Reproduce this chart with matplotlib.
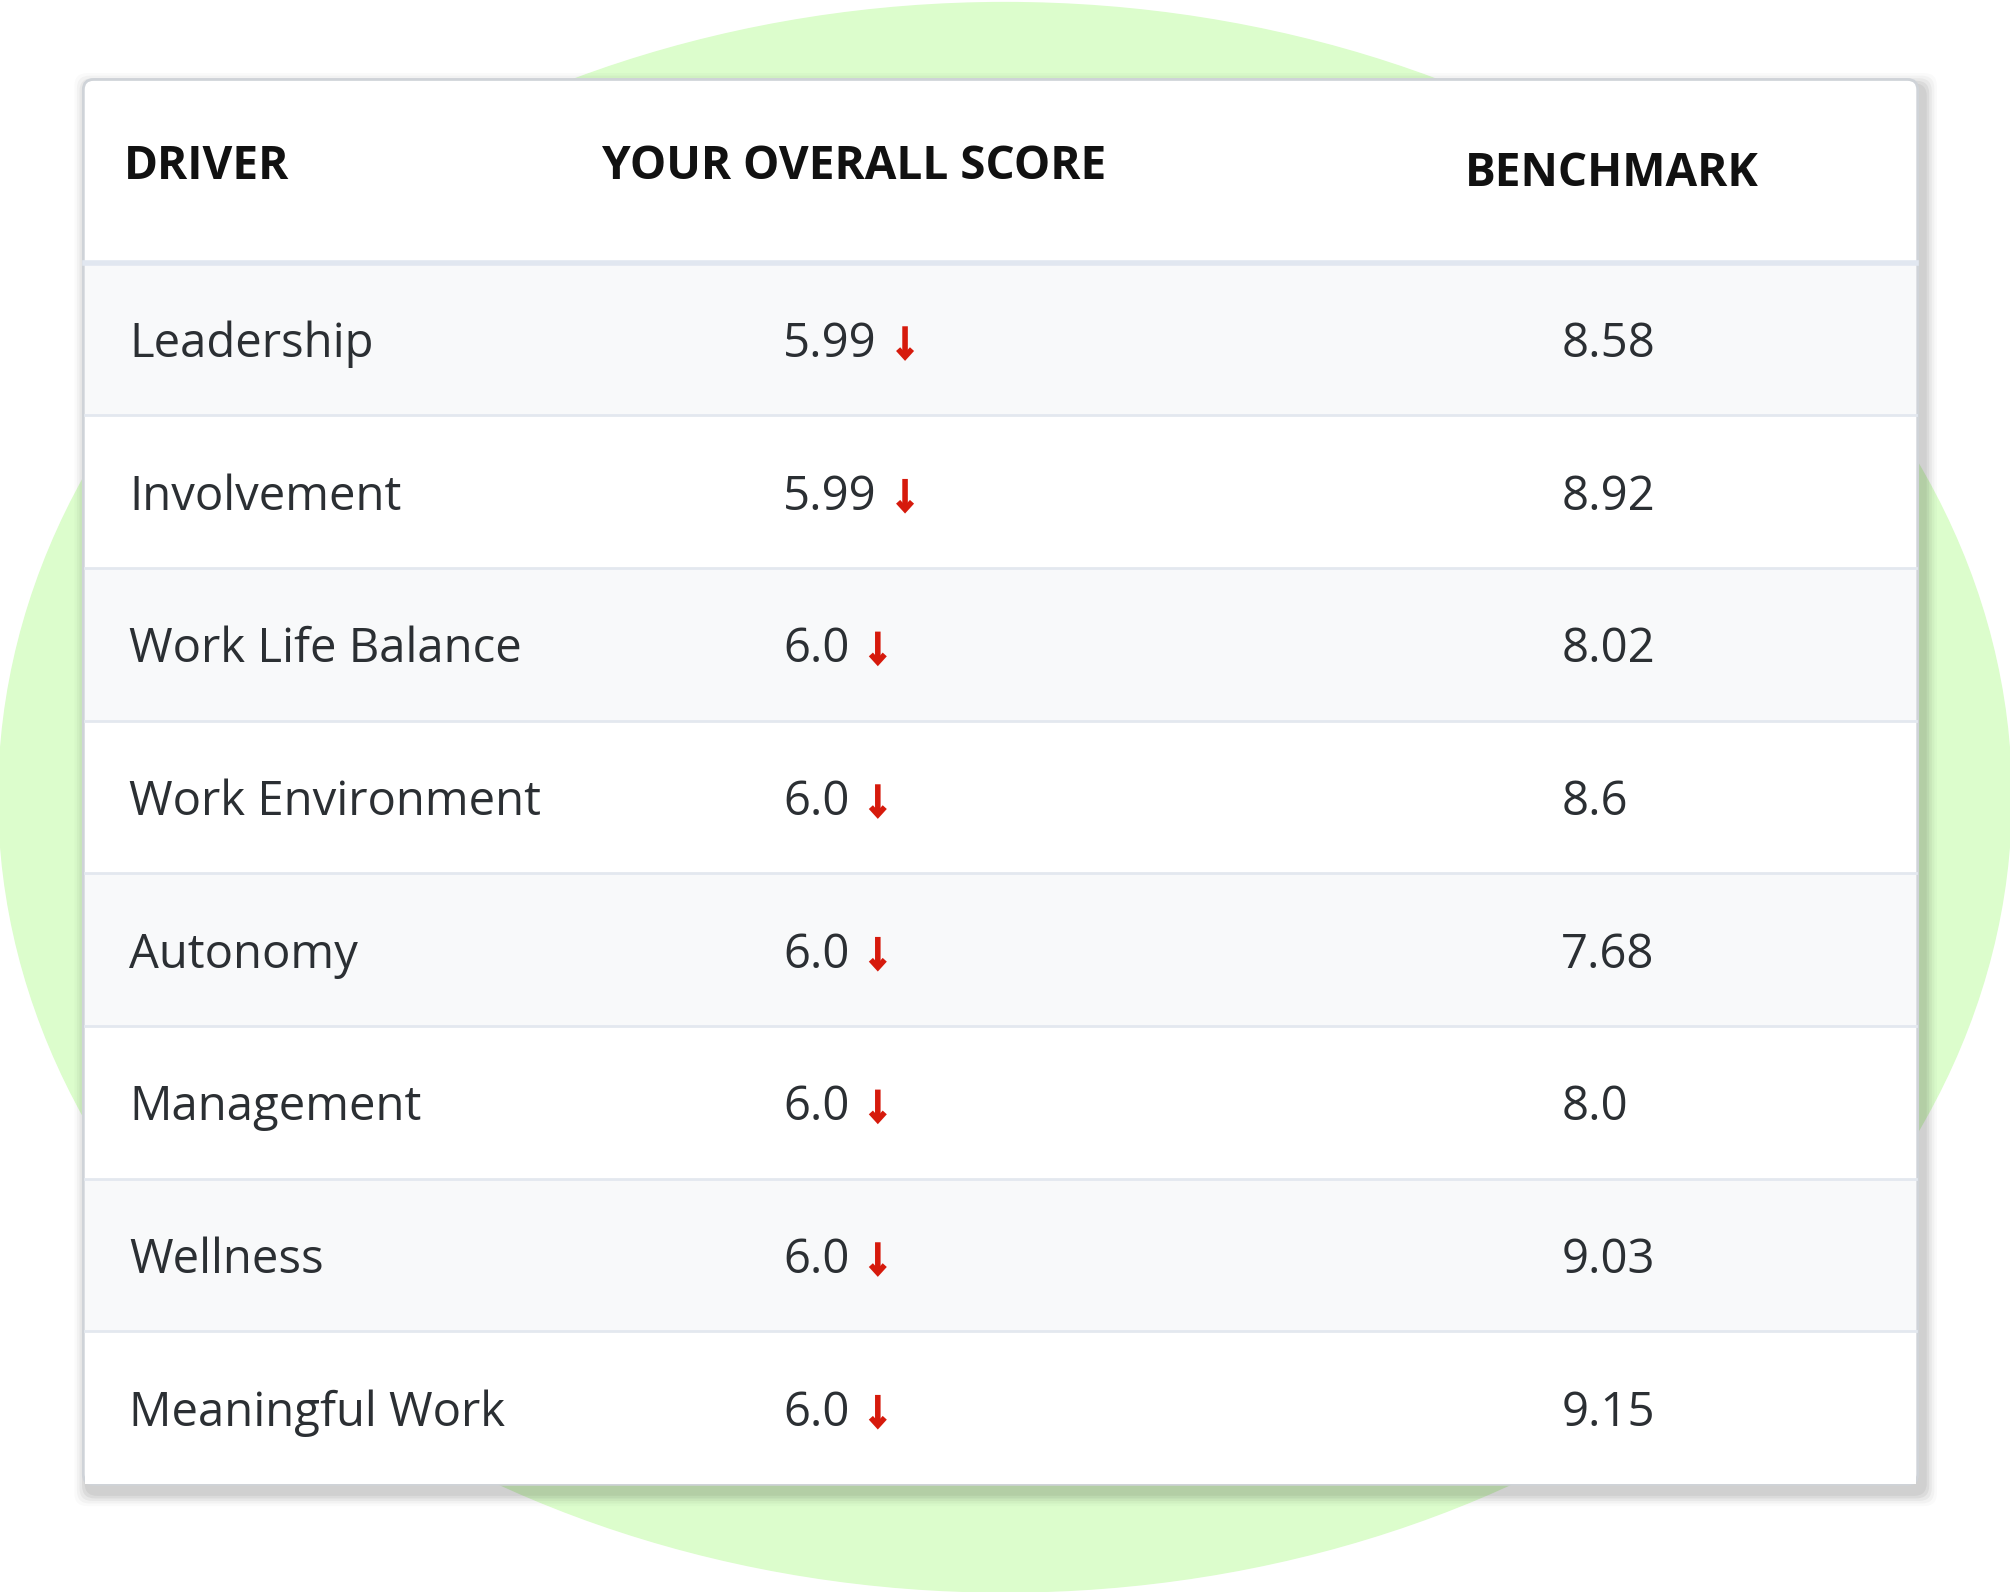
import matplotlib
matplotlib.use("Agg")
import matplotlib.pyplot as plt
from matplotlib.patches import Ellipse, FancyBboxPatch, Rectangle

headers = ["DRIVER", "YOUR OVERALL SCORE", "BENCHMARK"]
drivers = ["Leadership", "Involvement", "Work Life Balance", "Work Environment",
           "Autonomy", "Management", "Wellness", "Meaningful Work"]
scores = ["5.99", "5.99", "6.0", "6.0", "6.0", "6.0", "6.0", "6.0"]
benchmarks = ["8.58", "8.92", "8.02", "8.6", "7.68", "8.0", "9.03", "9.15"]

W, H = 1568, 1242
fig = plt.figure(figsize=(20.10, 15.92), dpi=100)
ax = fig.add_axes([0, 0, 1, 1])
ax.set_xlim(0, W); ax.set_ylim(H, 0); ax.axis("off")

ax.add_patch(Ellipse((784, 622), 1570, 1240, color="#dcfdcc", zorder=0))

L, R, T, B = 65, 1496, 62, 1158
for i, a in enumerate([0.05, 0.05, 0.04, 0.03, 0.02]):
    d = 3 + i * 2
    ax.add_patch(FancyBboxPatch((L + 4, T + 6), R - L, B - T, boxstyle=f"round,pad={d},rounding_size=10",
                                fc="black", ec="none", alpha=a, zorder=1))
ax.add_patch(FancyBboxPatch((L, T), R - L, B - T, boxstyle="round,pad=0,rounding_size=8",
                            fc="white", ec="#cfd3d8", lw=2, zorder=2))

hy, rh = 205, 119.1
for i in range(len(drivers)):
    y0 = hy + i * rh
    fc = "#f8f9fa" if i % 2 == 0 else "white"
    ax.add_patch(Rectangle((L + 1, y0), R - L - 2, rh, fc=fc, ec="none", zorder=3))
    if i > 0:
        ax.plot([L + 1, R - 1], [y0, y0], color="#e3e8ef", lw=2, zorder=4)
ax.plot([L + 1, R - 1], [hy, hy], color="#e1e7f0", lw=4, zorder=4)

font = "Open Sans"
hx = [97, 470, 1143]
hyy = [130, 130, 135]
for t, x, y in zip(headers, hx, hyy):
    ax.text(x, y, t, fontsize=33, fontweight="bold", family=font, color="#111111",
            va="center", ha="left", zorder=5)

score_texts = []
for i, (d, s, b) in enumerate(zip(drivers, scores, benchmarks)):
    yc = hy + (i + 0.5) * rh + 4
    ax.text(101, yc, d, fontsize=34, family=font, color="#2b2f33", va="center", zorder=5)
    st = ax.text(611, yc, s, fontsize=34, family=font, color="#2b2f33", va="center", zorder=5)
    score_texts.append((st, yc))
    ax.text(1218, yc, b, fontsize=34, family=font, color="#2b2f33", va="center", zorder=5)

fig.canvas.draw()
r = fig.canvas.get_renderer()
inv = ax.transData.inverted()
for st, yc in score_texts:
    bb = st.get_window_extent(r)
    x1 = inv.transform((bb.x1, bb.y0))[0]
    ax.annotate("", xy=(x1 + 22, yc + 13), xytext=(x1 + 22, yc - 14),
                arrowprops=dict(arrowstyle="->,head_width=0.5,head_length=0.55",
                                color="#d61a0c", lw=4, shrinkA=0, shrinkB=0,
                                joinstyle="miter", capstyle="butt"), zorder=6)

fig.savefig("out.png", dpi=100)
